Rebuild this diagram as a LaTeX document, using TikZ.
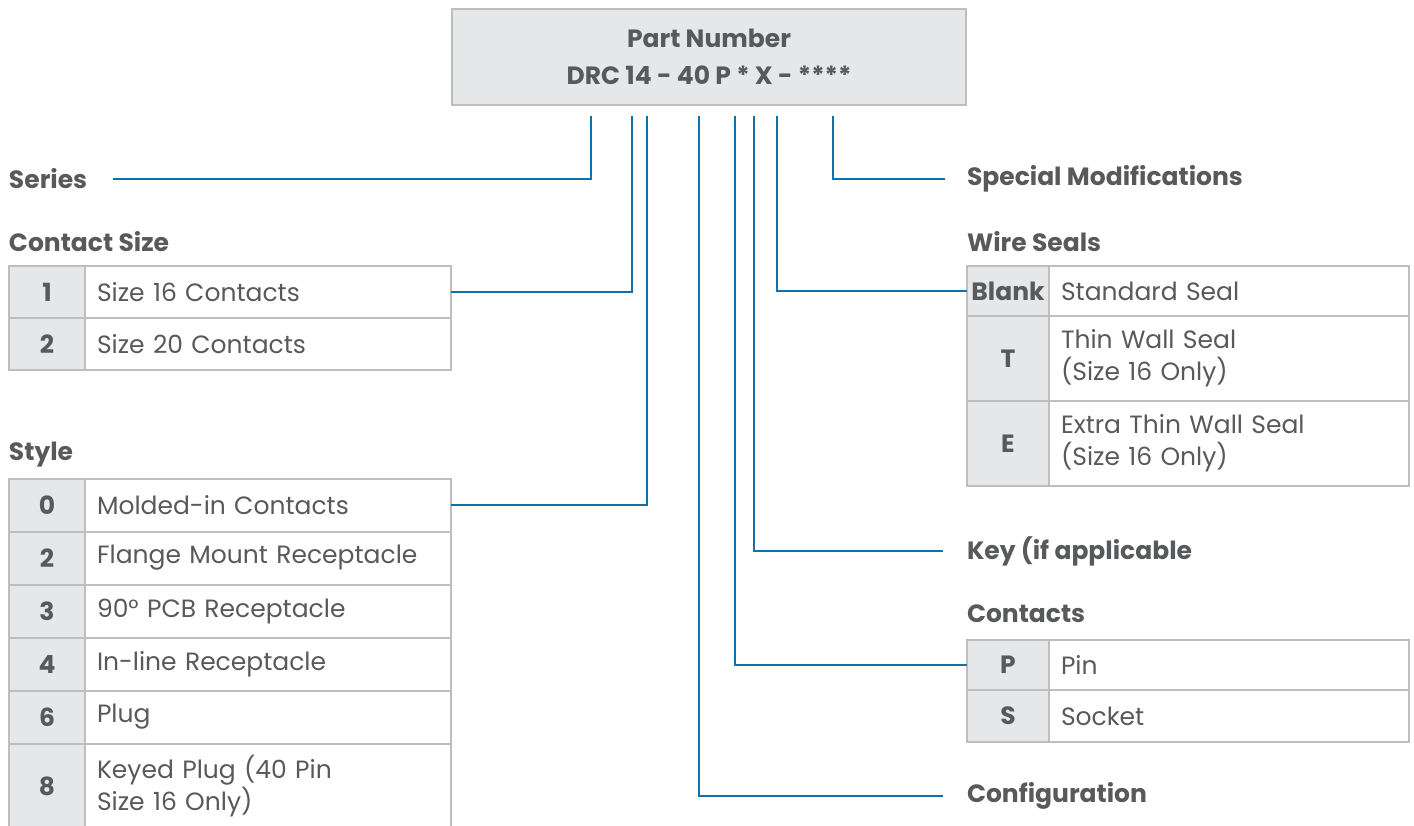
\documentclass[tikz,border=0pt]{standalone}
\usepackage{fontspec}
\setmainfont{Poppins}
\usetikzlibrary{positioning}
\definecolor{txtgray}{HTML}{58595B}
\definecolor{cellline}{HTML}{BCBEC0}
\definecolor{keyfill}{HTML}{E6E7E8}
\definecolor{leadblue}{HTML}{1170AA}

\begin{document}
\begin{tikzpicture}[x=0.5pt, y=-0.5pt,
  every node/.style = {
    text = txtgray,
    font = \fontsize{12.5}{16}\selectfont,
    inner sep = 0,
    outer sep = 0,
  },
  heading/.style = {font = \fontsize{12.5}{16}\selectfont\bfseries, anchor = west},
  keycell/.style = {draw = cellline, fill = keyfill, line width = 1pt,
    font = \fontsize{12.5}{16}\selectfont\bfseries, minimum width = #1, minimum height = 26pt},
  desccell/.style = {draw = cellline, line width = 1pt, align = left,
    inner xsep = 6pt, text width = #1, minimum height = 26pt},
  lead/.style = {draw = leadblue, line width = 1.4pt},
]
\useasboundingbox (0,0) rectangle (1414,825);

% part number box
\node[draw = cellline, fill = keyfill, line width = 1pt, minimum width = 257pt,
  minimum height = 48pt, font = \fontsize{12.5}{18.5}\selectfont\bfseries, align = center]
  (pn) at (709,57) {Part Number\\DRC 14 - 40 P * X - ****};

% tap points under the box
\coordinate (tser) at (591,116);
\coordinate (tcs)  at (632,116);
\coordinate (tsty) at (647,116);
\coordinate (tcfg) at (699,116);
\coordinate (tcon) at (735,116);
\coordinate (tkey) at (754,116);
\coordinate (tws)  at (777,116);
\coordinate (tspm) at (833,116);

% left side
\node[heading] (ser) at (9,179) {Series};
\node[heading] (csh) at (9,242) {Contact Size};
\node[keycell = 38pt] (cs1) at (47,292) {1};
\node[desccell = 171pt, right = 0pt of cs1] (cs1d) {Size 16 Contacts};
\node[keycell = 38pt, below = 0pt of cs1] (cs2) {2};
\node[desccell = 171pt, right = 0pt of cs2] (cs2d) {Size 20 Contacts};

\node[heading] (sth) at (9,455) {Style};
\node[keycell = 38pt, minimum height = 26.5pt] (st0) at (47,505) {0};
\node[desccell = 171pt, minimum height = 26.5pt, right = 0pt of st0] (st0d) {Molded-in Contacts};
\node[keycell = 38pt, minimum height = 26.5pt, below = 0pt of st0] (st2) {2};
\node[desccell = 171pt, minimum height = 26.5pt, right = 0pt of st2] (st2d) {Flange Mount Receptacle};
\node[keycell = 38pt, minimum height = 26.5pt, below = 0pt of st2] (st3) {3};
\node[desccell = 171pt, minimum height = 26.5pt, right = 0pt of st3] (st3d) {90° PCB Receptacle};
\node[keycell = 38pt, minimum height = 26.5pt, below = 0pt of st3] (st4) {4};
\node[desccell = 171pt, minimum height = 26.5pt, right = 0pt of st4] (st4d) {In-line Receptacle};
\node[keycell = 38pt, minimum height = 26.5pt, below = 0pt of st4] (st6) {6};
\node[desccell = 171pt, minimum height = 26.5pt, right = 0pt of st6] (st6d) {Plug};
\node[keycell = 38pt, minimum height = 43pt, below = 0pt of st6] (st8) {8};
\node[desccell = 171pt, minimum height = 43pt, right = 0pt of st8] (st8d) {Keyed Plug (40 Pin\\Size 16 Only)};

% right side
\node[heading] (spm) at (967,179) {Special Modifications};
\node[heading] (wsh) at (967,242) {Wire Seals};
\node[keycell = 41pt, minimum height = 25pt] (wsB) at (1008,291) {Blank};
\node[desccell = 168pt, minimum height = 25pt, right = 0pt of wsB] (wsBd) {Standard Seal};
\node[keycell = 41pt, minimum height = 42.5pt, below = 0pt of wsB] (wsT) {T};
\node[desccell = 168pt, minimum height = 42.5pt, right = 0pt of wsT] (wsTd) {Thin Wall Seal\\(Size 16 Only)};
\node[keycell = 41pt, minimum height = 42.5pt, below = 0pt of wsT] (wsE) {E};
\node[desccell = 168pt, minimum height = 42.5pt, right = 0pt of wsE] (wsEd) {Extra Thin Wall Seal\\(Size 16 Only)};

\node[heading] (key) at (967,551) {Key (if applicable};
\node[heading] (conh) at (967,614) {Contacts};
\node[keycell = 41pt, minimum height = 25pt] (conP) at (1008,665) {P};
\node[desccell = 168pt, minimum height = 25pt, right = 0pt of conP] (conPd) {Pin};
\node[keycell = 41pt, minimum height = 26pt, below = 0pt of conP] (conS) {S};
\node[desccell = 168pt, minimum height = 26pt, right = 0pt of conS] (conSd) {Socket};
\node[heading] (cfg) at (967,796) {Configuration};

% leads
\draw[lead] (tser) |- ([xshift = 13pt]ser.east);
\draw[lead] (tcs) |- (cs1d.east);
\draw[lead] (tsty) |- (st0d.east);
\draw[lead] (tcfg) |- ([xshift = -12pt]cfg.west);
\draw[lead] (tcon) |- (conP.west);
\draw[lead] (tkey) |- ([xshift = -12pt]key.west);
\draw[lead] (tws) |- (wsB.west);
\draw[lead] (tspm) |- ([xshift = -11pt]spm.west);
\end{tikzpicture}
\end{document}
